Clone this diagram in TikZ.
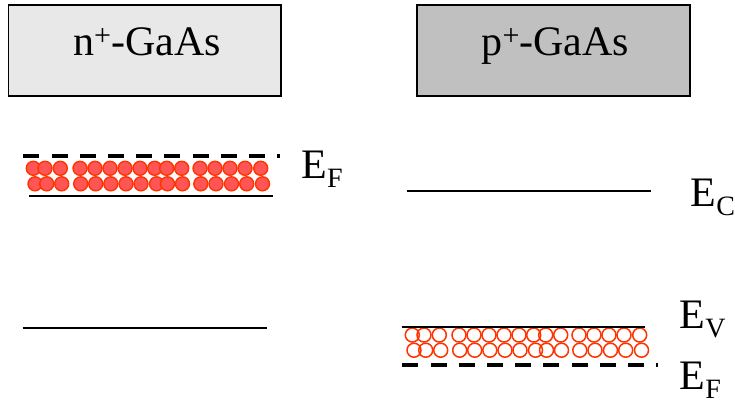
\documentclass[tikz,border=0pt]{standalone}
\usepackage{fontspec}
\setmainfont{Liberation Serif}
\definecolor{nfill}{RGB}{232,232,232}
\definecolor{pfill}{RGB}{192,192,192}
\definecolor{efill}{RGB}{255,85,85}
\definecolor{edraw}{RGB}{255,51,0}
\newcommand\lvl[1]{E\raisebox{-9pt}{\fontsize{28}{28}\selectfont #1}}
\newcommand\gaas[1]{#1\raisebox{9.5pt}{\fontsize{30}{30}\selectfont +}-GaAs}
\def\toprow{33.3,45,60.3,80,95,110,125,140,154.7,166.7,181.7,200,215,230,245,260.7}
\def\botrow{35,46.7,61.7,80.7,95.7,110.8,126,141,156.5,167.5,182.5,200.8,216,231.5,246.7,262.5}
\begin{document}
\begin{tikzpicture}[x=1pt,y=-1pt,
  gabox/.style={draw=black, line width=1.5pt, minimum width=272.8pt, minimum height=91pt, inner sep=0pt, outer sep=0pt},
  boxtext/.style={font=\fontsize{42}{42}\selectfont, anchor=base, inner sep=0pt},
  lbl/.style={font=\fontsize{42}{42}\selectfont, anchor=base west, inner sep=0pt},
  level/.style={line width=2pt},
  fermi/.style={line width=4pt, dash pattern=on 16pt off 12.2pt},
  electron/.style={fill=efill, draw=edraw, line width=1.4pt},
  hole/.style={draw=edraw, line width=1.5pt}]
\useasboundingbox (0,0) rectangle (735,403);
% boxes
\node[gabox, fill=nfill] (nbox) at (144.8,50.5) {};
\node[gabox, fill=pfill] (pbox) at (553.4,50.5) {};
\node[boxtext] (nlab) at (147,55.5) {\gaas{n}};
\node[boxtext] (plab) at (555.5,55.5) {\gaas{p}};
% n+ side
\foreach \x in \toprow {\draw[electron] (\x,168.3) circle (7pt);}
\foreach \x in \botrow {\draw[electron] (\x,183.8) circle (7pt);}
\draw[fermi] (23.3,156) -- (280,156);
\draw[level] (29,196) -- (272.7,196);
\draw[level] (22.7,327.7) -- (266.7,327.7);
% p+ side
\foreach \x in \toprow {\draw[hole] (\x+379,335) circle (7pt);}
\foreach \x in \botrow {\draw[hole] (\x+379,350.2) circle (7pt);}
\draw[level] (406.7,191) -- (650.7,191);
\draw[level] (401.7,327.3) -- (645,327.3);
\draw[fermi] (402.3,364.7) -- (658,364.7);
% labels
\node[lbl] (efn) at (301.2,178.3) {\lvl{F}};
\node[lbl] (ec) at (690.5,207) {\lvl{C}};
\node[lbl] (ev) at (679.5,328) {\lvl{V}};
\node[lbl] (efp) at (679.5,389) {\lvl{F}};
\end{tikzpicture}
\end{document}
